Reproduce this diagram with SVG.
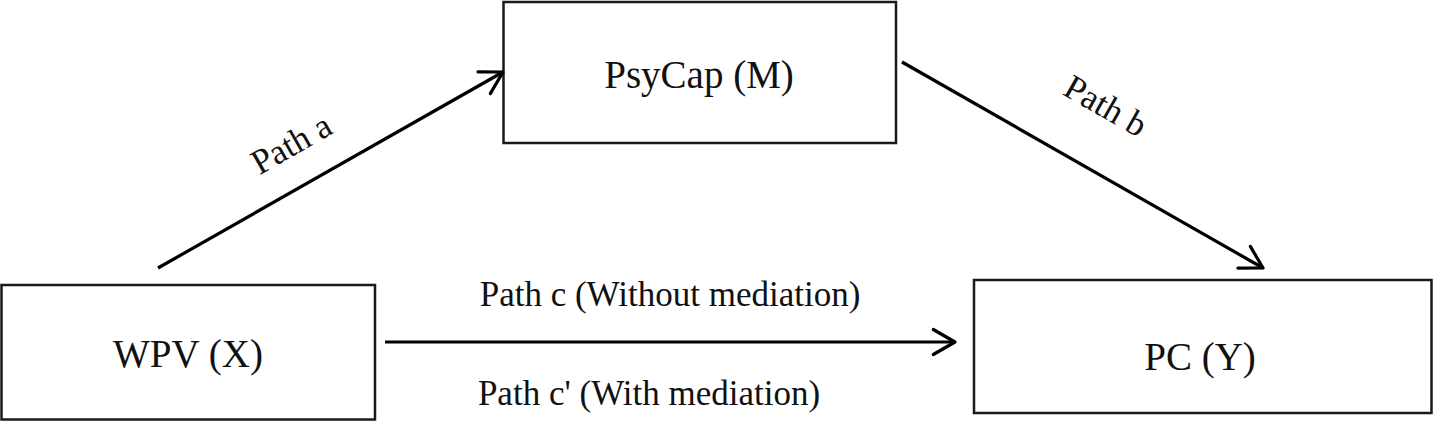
<svg xmlns="http://www.w3.org/2000/svg" width="1433" height="421" viewBox="0 0 1433 421">
<style>
.box{fill:#fff;stroke:#1a1a1a;stroke-width:2.5}
.node{font-family:"Liberation Serif","Times New Roman",serif;font-size:39px;fill:#111;text-anchor:middle}
.lbl{font-family:"Liberation Serif","Times New Roman",serif;font-size:35px;fill:#111;text-anchor:middle}
.edge{stroke:#000;stroke-width:3.2;fill:none}
</style>
<defs>
<marker id="arr" markerUnits="userSpaceOnUse" markerWidth="30" markerHeight="34" refX="24" refY="15" orient="auto" viewBox="0 0 30 34" overflow="visible">
<path d="M2.3,2.5 L24,15 L2.3,27.5" fill="none" stroke="#000" stroke-width="3.2" stroke-linecap="round" stroke-linejoin="round"/>
</marker>
</defs>
<rect width="1433" height="421" fill="#fff"/>
<g id="node-wpv">
<rect class="box" x="1.5" y="285" width="373.5" height="134.5"/>
<text class="node" x="188" y="367">WPV (X)</text>
</g>
<g id="node-psycap">
<rect class="box" x="503.5" y="2" width="392.5" height="141"/>
<text class="node" x="699" y="88">PsyCap (M)</text>
</g>
<g id="node-pc">
<rect class="box" x="974" y="280" width="457.5" height="133"/>
<text class="node" x="1200" y="370">PC (Y)</text>
</g>
<g id="connectors">
<line class="edge" x1="158" y1="268" x2="503" y2="72" marker-end="url(#arr)"/>
<line class="edge" x1="902" y1="62" x2="1263" y2="268" marker-end="url(#arr)"/>
<line class="edge" x1="385" y1="342" x2="955" y2="342" marker-end="url(#arr)"/>
<text class="lbl" transform="translate(297,154) rotate(-29.6)">Path a</text>
<text class="lbl" transform="translate(1100,116) rotate(29.7)">Path b</text>
<text class="lbl" x="670" y="306">Path c (Without mediation)</text>
<text class="lbl" x="649" y="405">Path c' (With mediation)</text>
</g>
</svg>
